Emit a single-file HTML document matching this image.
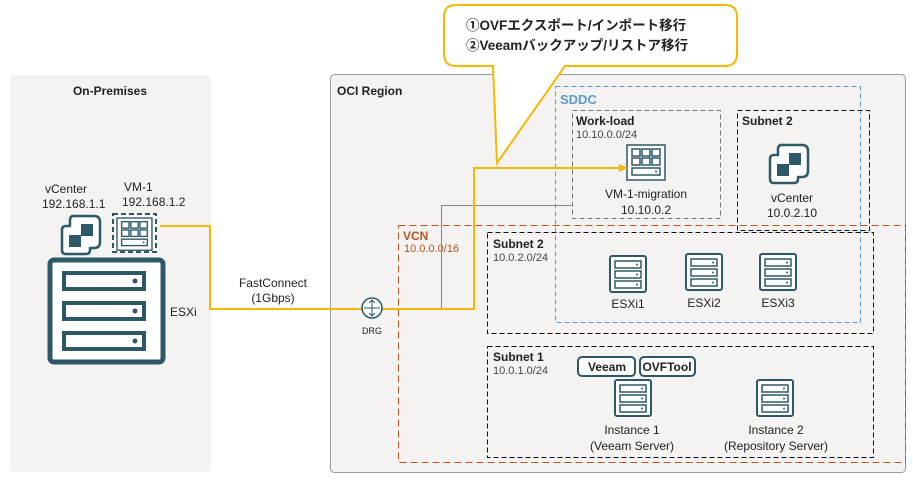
<!DOCTYPE html>
<html><head><meta charset="utf-8"><style>
body{margin:0;background:#fff;}
svg{display:block;font-family:"Liberation Sans","Noto Sans CJK JP",sans-serif;}
.d{shape-rendering:crispEdges;}
</style></head><body>
<svg width="913" height="481" viewBox="0 0 913 481" xmlns="http://www.w3.org/2000/svg">
<defs>
<g id="srv"><rect x="0" y="0" width="36" height="36" rx="2" fill="#fff" stroke="#2d5967" stroke-width="2"/>
<rect x="5" y="5" width="26" height="7" fill="#fff" stroke="#2d5967" stroke-width="1.5"/>
<rect x="5" y="15" width="26" height="7" fill="#fff" stroke="#2d5967" stroke-width="1.5"/>
<rect x="5" y="25" width="26" height="7" fill="#fff" stroke="#2d5967" stroke-width="1.5"/>
<circle cx="27" cy="8.5" r="1" fill="#2d5967"/><circle cx="27" cy="18.5" r="1" fill="#2d5967"/><circle cx="27" cy="28.5" r="1" fill="#2d5967"/></g>
<g id="vc"><path d="M12 2 H34 Q40 2 40 8 V28 Q40 34 34 34 H30 V36 Q30 40 26 40 H6 Q2 40 2 36 V16 Q2 12 6 12 H10 V6 Q10 2 14 2 Z" fill="#fff" stroke="#2d5967" stroke-width="2.5" stroke-linejoin="round"/>
<rect x="21" y="10" width="12" height="12" fill="#2d5967"/><rect x="9" y="21" width="12" height="12" fill="#2d5967"/></g>
<g id="vm"><rect x="0" y="0" width="38" height="35" fill="#fff" stroke="#2d5967" stroke-width="1.5"/>
<g fill="none" stroke="#2d5967" stroke-width="1.5">
<rect x="5" y="4" width="8" height="7"/><rect x="15" y="4" width="8" height="7"/><rect x="25" y="4" width="8" height="7"/>
<rect x="5" y="13" width="8" height="7"/><rect x="15" y="13" width="8" height="7"/><rect x="25" y="13" width="8" height="7"/>
<rect x="5" y="23" width="28" height="7"/></g><circle cx="29" cy="26.5" r="1" fill="#2d5967"/></g>
</defs>
<rect x="10" y="75" width="201" height="397" rx="4" fill="#f4f3f2"/>
<text x="110" y="95" font-size="12" font-weight="bold" text-anchor="middle" fill="#222">On-Premises</text>
<text x="45" y="193" font-size="12" fill="#222">vCenter</text>
<text x="42" y="208" font-size="12" fill="#222">192.168.1.1</text>
<text x="124" y="191" font-size="12" fill="#222">VM-1</text>
<text x="122" y="206" font-size="12" fill="#222">192.168.1.2</text>
<use href="#vc" x="60" y="214"/>
<rect x="113" y="214" width="43" height="38" fill="#fff" stroke="#2d5967" stroke-width="2" stroke-dasharray="5,3"/>
<g transform="translate(117,218) scale(0.92)"><use href="#vm"/></g>
<rect x="50" y="260" width="113" height="102" rx="4" fill="#fff" stroke="#2d5967" stroke-width="5"/>
<rect x="64" y="273" width="80" height="16" fill="#fff" stroke="#2d5967" stroke-width="4"/>
<rect x="64" y="303" width="80" height="16" fill="#fff" stroke="#2d5967" stroke-width="4"/>
<rect x="64" y="333" width="80" height="16" fill="#fff" stroke="#2d5967" stroke-width="4"/>
<circle cx="135" cy="281" r="2.5" fill="#2d5967"/><circle cx="135" cy="311" r="2.5" fill="#2d5967"/><circle cx="135" cy="341" r="2.5" fill="#2d5967"/>
<text x="170" y="316" font-size="12" fill="#222">ESXi</text>
<rect x="330.5" y="74.5" width="575" height="398" rx="4" fill="#f4f3f2" stroke="#9a9a9a" stroke-width="1"/>
<text x="337" y="95" font-size="12" font-weight="bold" fill="#222">OCI Region</text>
<rect class="d" x="555.5" y="86.5" width="305" height="236" fill="none" stroke="#5b9bd5" stroke-width="1" stroke-dasharray="5,3"/>
<text x="560" y="104" font-size="13" font-weight="bold" fill="#5b9bd5">SDDC</text>
<rect class="d" x="572.5" y="110.5" width="148" height="108" fill="none" stroke="#777" stroke-width="1" stroke-dasharray="5,3"/>
<text x="576" y="125" font-size="12" font-weight="bold" fill="#222">Work-load</text>
<text x="576" y="138" font-size="11" fill="#444">10.10.0.0/24</text>
<use href="#vm" x="627" y="145"/>
<text x="646" y="198" font-size="12" text-anchor="middle" fill="#222">VM-1-migration</text>
<text x="646" y="214" font-size="12" text-anchor="middle" fill="#222">10.10.0.2</text>
<rect class="d" x="737.5" y="110.5" width="132" height="120" fill="none" stroke="#111" stroke-width="1" stroke-dasharray="5,3"/>
<text x="742" y="125" font-size="12" font-weight="bold" fill="#222">Subnet 2</text>
<use href="#vc" x="768" y="143"/>
<text x="792" y="202" font-size="12" text-anchor="middle" fill="#222">vCenter</text>
<text x="792" y="217" font-size="12" text-anchor="middle" fill="#222">10.0.2.10</text>
<rect class="d" x="398.5" y="225.5" width="507" height="237" fill="none" stroke="#c0531e" stroke-width="1" stroke-dasharray="7,4"/>
<text x="403" y="240" font-size="12" font-weight="bold" fill="#c0531e">VCN</text>
<text x="404" y="252" font-size="11" fill="#c0531e">10.0.0.0/16</text>
<rect class="d" x="487.5" y="232.5" width="386" height="101" fill="none" stroke="#111" stroke-width="1" stroke-dasharray="5,3"/>
<text x="493" y="248" font-size="12" font-weight="bold" fill="#222">Subnet 2</text>
<text x="493" y="261" font-size="11" fill="#444">10.0.2.0/24</text>
<use href="#srv" x="610" y="256"/><text x="628" y="308" font-size="12" text-anchor="middle" fill="#222">ESXi1</text>
<use href="#srv" x="686" y="254"/><text x="704" y="307" font-size="12" text-anchor="middle" fill="#222">ESXi2</text>
<use href="#srv" x="760" y="254"/><text x="778" y="307" font-size="12" text-anchor="middle" fill="#222">ESXi3</text>
<rect class="d" x="487.5" y="346.5" width="386" height="111" fill="none" stroke="#111" stroke-width="1" stroke-dasharray="5,3"/>
<text x="493" y="361" font-size="12" font-weight="bold" fill="#222">Subnet 1</text>
<text x="493" y="374" font-size="11" fill="#444">10.0.1.0/24</text>
<rect x="578" y="357" width="57" height="19" rx="4" fill="#fff" stroke="#2d5967" stroke-width="2"/>
<text x="607" y="371" font-size="12" font-weight="bold" text-anchor="middle" fill="#222">Veeam</text>
<rect x="640" y="357" width="55" height="19" rx="4" fill="#fff" stroke="#2d5967" stroke-width="2"/>
<text x="667" y="371" font-size="12" font-weight="bold" text-anchor="middle" fill="#222">OVFTool</text>
<use href="#srv" x="615" y="380"/>
<text x="632" y="434" font-size="12" text-anchor="middle" fill="#222">Instance 1</text>
<text x="632" y="450" font-size="12" text-anchor="middle" fill="#222">(Veeam Server)</text>
<use href="#srv" x="757" y="380"/>
<text x="776" y="434" font-size="12" text-anchor="middle" fill="#222">Instance 2</text>
<text x="776" y="450" font-size="12" text-anchor="middle" fill="#222">(Repository Server)</text>
<polyline points="372,309.5 441.5,309.5 441.5,205.5 572,205.5" fill="none" stroke="#888" stroke-width="1"/>
<polyline points="160,226 210,226 210,309 474,309 474,168 622,168" fill="none" stroke="#f5b800" stroke-width="2"/>
<polygon points="628,168 619,164 619,172" fill="#f5b800"/>
<circle cx="372" cy="308" r="10" fill="#fff" stroke="#2d5967" stroke-width="1.5"/>
<path d="M372 300 V316 M364 308 H380 M369 303 L372 300 L375 303 M369 313 L372 316 L375 313" stroke="#2d5967" stroke-width="1" fill="none"/>
<text x="372" y="334" font-size="9" text-anchor="middle" fill="#222">DRG</text>
<text x="273" y="287" font-size="12" text-anchor="middle" fill="#222">FastConnect</text>
<text x="273" y="302" font-size="12" text-anchor="middle" fill="#222">(1Gbps)</text>
<path d="M456 5 H725 Q737 5 737 17 V54 Q737 66 725 66 H565 L497 163 L493 66 H456 Q444 66 444 54 V17 Q444 5 456 5 Z" fill="#fff" stroke="#f5b800" stroke-width="2"/>
<text x="466" y="30" font-size="13.5" font-weight="bold" fill="#222">①OVFエクスポート/インポート移行</text>
<text x="466" y="50" font-size="13.5" font-weight="bold" fill="#222">②Veeamバックアップ/リストア移行</text>
</svg>
</body></html>
